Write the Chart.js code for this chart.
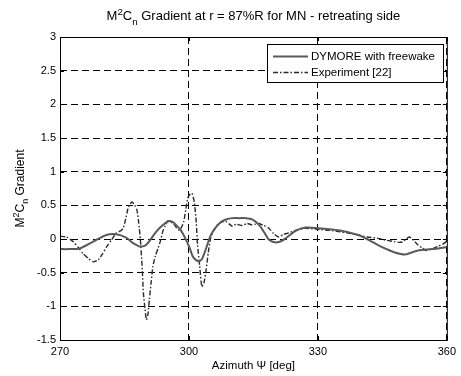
<!DOCTYPE html>
<html>
<head>
<meta charset="utf-8">
<script src="https://cdn.jsdelivr.net/npm/chart.js@4/dist/chart.umd.min.js"></script>
<style>
  html, body { margin: 0; padding: 0; background: #fff; }
  canvas { display: block; }
</style>
</head>
<body>
<canvas id="chart" width="461" height="376"></canvas>
<script>
const FONT = "'Liberation Sans', Arial, sans-serif";

// azimuth (deg) and M^2Cn gradient
const dymoreAz = [270, 272, 274.6, 277.7, 280.8, 283.1, 285.4, 287, 288.5, 290,
  292.4, 294, 295.1, 296, 297, 298.2, 299.3, 300.2, 300.9, 301.6,
  302.3, 303, 303.6, 304.3, 305.1, 306.2, 307.4, 308.6, 310.1, 311.7,
  313.2, 314.7, 316.3, 317.5, 318.6, 319.5, 320.5, 321.5, 322.5, 324.8,
  327.1, 330.2, 334.8, 339.4, 342, 344, 346, 347.9, 350.2, 351.8,
  353.3, 356.4, 358, 360];
const dymoreVal = [-0.15, -0.15, -0.14, -0.04, 0.06, 0.07, 0.02, -0.06, -0.11, -0.09,
  0.11, 0.21, 0.26, 0.26, 0.21, 0.12, -0.01, -0.14, -0.26, -0.31,
  -0.33, -0.3, -0.21, -0.08, 0.06, 0.17, 0.25, 0.29, 0.31, 0.31,
  0.31, 0.29, 0.21, 0.1, -0.01, -0.04, -0.05, -0.03, 0.01, 0.12,
  0.17, 0.16, 0.13, 0.06, -0.02, -0.09, -0.15, -0.2, -0.23, -0.2,
  -0.17, -0.15, -0.14, -0.12];

const expAz = [270, 271.5, 273.1, 274.3, 275.4, 276.6, 277.7, 278.9, 279.9, 280.8,
  282, 283.1, 284.1, 284.7, 285.3, 285.8, 286.3, 286.8, 287.4, 287.9,
  288.3, 288.7, 289.1, 289.4, 289.8, 290.1, 290.5, 290.8, 291.2, 291.6,
  292.2, 292.8, 293.4, 293.9, 294.5, 295.1, 295.8, 296.6, 297.2, 297.8,
  298.3, 298.8, 299.3, 299.7, 300.2, 300.7, 301, 301.3, 301.7, 302,
  302.5, 303, 303.5, 304, 304.5, 305.1, 305.8, 306.6, 307.6, 308.6,
  309.4, 310.1, 311, 312.4, 313.5, 314.7, 315.5, 316.3, 317.4, 318.6,
  319.7, 320.9, 322, 323.2, 325, 327.1, 330.2, 332.5, 334.8, 337,
  339.4, 341.5, 344, 346, 347.9, 349, 349.8, 350.5, 351.3, 352.3,
  353.3, 354.2, 355.2, 356.5, 357.9, 359, 360];
const expVal = [0.04, 0.03, -0.04, -0.13, -0.22, -0.29, -0.34, -0.31, -0.22, -0.12,
  -0.01, 0.09, 0.12, 0.16, 0.3, 0.45, 0.52, 0.55, 0.5, 0.43,
  0.25, -0.01, -0.4, -0.8, -1.05, -1.2, -1.1, -0.9, -0.65, -0.41,
  -0.25, -0.14, -0.02, 0.11, 0.2, 0.27, 0.25, 0.21, 0.16, 0.13,
  0.18, 0.26, 0.45, 0.6, 0.66, 0.68, 0.62, 0.53, 0.25, -0.09,
  -0.4, -0.71, -0.65, -0.46, -0.2, 0.03, 0.13, 0.21, 0.25, 0.26,
  0.22, 0.19, 0.22, 0.2, 0.23, 0.21, 0.22, 0.23, 0.2, 0.16,
  0.08, 0.03, 0.07, 0.09, 0.13, 0.16, 0.14, 0.13, 0.11, 0.09,
  0.06, 0.03, 0.01, -0.02, -0.04, -0.05, -0.04, 0.0, 0.03, -0.02,
  -0.09, -0.13, -0.17, -0.15, -0.11, -0.08, -0.03];

const seriesNames = ["DYMORE with freewake", "Experiment [22]"];
const xRange = [270, 360];
const yRange = [-1.5, 3];

function pts(xs, ys) {
  return xs.map((x, i) => ({ x: x, y: ys[i] }));
}

// draw text pieces with superscripts / subscripts
function richWidth(ctx, parts, size) {
  let w = 0;
  parts.forEach((p) => {
    ctx.font = (p.sup || p.sub ? size * 0.75 : size) + "px " + FONT;
    w += ctx.measureText(p.t).width;
  });
  return w;
}
function drawRich(ctx, parts, x, y, size) {
  let cx = x;
  parts.forEach((p) => {
    const s = p.sup || p.sub ? size * 0.75 : size;
    ctx.font = s + "px " + FONT;
    const dy = p.sup ? -size * 0.42 : p.sub ? size * 0.35 : 0;
    ctx.fillText(p.t, cx, y + dy);
    cx += ctx.measureText(p.t).width;
  });
}

const titleParts = [{ t: "M" }, { t: "2", sup: true }, { t: "C" }, { t: "n", sub: true },
  { t: " Gradient at r = 87%R for MN - retreating side" }];
const yTitleParts = [{ t: "M" }, { t: "2", sup: true }, { t: "C" }, { t: "n", sub: true },
  { t: " Gradient" }];

const decor = {
  id: "decor",
  afterDraw(chart) {
    const ctx = chart.ctx;
    const a = chart.chartArea;
    const sx = chart.scales.x, sy = chart.scales.y;
    ctx.save();
    // frame
    ctx.strokeStyle = "#000";
    ctx.lineWidth = 1;
    ctx.setLineDash([]);
    ctx.strokeRect(a.left + 0.5, a.top + 0.5, a.right - a.left, a.bottom - a.top);

    // inward tick marks on all four sides
    ctx.beginPath();
    sx.ticks.forEach((t) => {
      const px = Math.round(sx.getPixelForValue(t.value)) + 0.5;
      ctx.moveTo(px, a.bottom); ctx.lineTo(px, a.bottom - 4);
      ctx.moveTo(px, a.top); ctx.lineTo(px, a.top + 4);
    });
    sy.ticks.forEach((t) => {
      const py = Math.round(sy.getPixelForValue(t.value)) + 0.5;
      ctx.moveTo(a.left, py); ctx.lineTo(a.left + 4, py);
      ctx.moveTo(a.right, py); ctx.lineTo(a.right - 4, py);
    });
    ctx.stroke();

    ctx.fillStyle = "#000";
    ctx.textBaseline = "alphabetic";
    ctx.textAlign = "left";

    // title
    const ts = 13;
    const tw = richWidth(ctx, titleParts, ts);
    drawRich(ctx, titleParts, (a.left + a.right) / 2 - tw / 2, 20, ts);

    // y axis title
    const ys = 12;
    const yw = richWidth(ctx, yTitleParts, ys);
    ctx.save();
    ctx.translate(24, (a.top + a.bottom) / 2);
    ctx.rotate(-Math.PI / 2);
    drawRich(ctx, yTitleParts, -yw / 2, 0, ys);
    ctx.restore();

    // legend
    const lx = 267, ly = 44, lw = 176, lh = 38;
    ctx.fillStyle = "#fff";
    ctx.fillRect(lx, ly, lw, lh);
    ctx.strokeStyle = "#000";
    ctx.lineWidth = 1;
    ctx.strokeRect(lx + 0.5, ly + 0.5, lw, lh);
    chart.data.datasets.forEach((ds, i) => {
      const y = ly + 12 + i * 16;
      ctx.strokeStyle = ds.borderColor;
      ctx.lineWidth = ds.borderWidth;
      ctx.setLineDash(ds.borderDash || []);
      ctx.beginPath();
      ctx.moveTo(lx + 6, y + 0.5);
      ctx.lineTo(lx + 41, y + 0.5);
      ctx.stroke();
      ctx.setLineDash([]);
      ctx.fillStyle = "#000";
      ctx.font = "11.5px " + FONT;
      ctx.textBaseline = "middle";
      ctx.fillText(ds.label, lx + 44, y + 1);
    });
    ctx.restore();
  },
};

new Chart(document.getElementById("chart"), {
  type: "line",
  data: {
    datasets: [
      {
        label: seriesNames[0],
        data: pts(dymoreAz, dymoreVal),
        borderColor: "#5a5a5a",
        borderWidth: 2,
        pointRadius: 0,
        tension: 0.3,
        fill: false,
      },
      {
        label: seriesNames[1],
        data: pts(expAz, expVal),
        borderColor: "#2a2a2a",
        borderWidth: 1.4,
        borderDash: [5, 2, 1.5, 2],
        pointRadius: 0,
        tension: 0.2,
        fill: false,
      },
    ],
  },
  options: {
    responsive: false,
    devicePixelRatio: 1,
    animation: false,
    layout: { padding: { left: 0, right: 12, top: 37, bottom: 0 } },
    plugins: { legend: { display: false }, title: { display: false }, tooltip: { enabled: false } },
    scales: {
      x: {
        type: "linear",
        min: xRange[0],
        max: xRange[1],
        ticks: { stepSize: 30, color: "#000", font: { family: FONT, size: 11 }, padding: 5, maxRotation: 0 },
        grid: { color: "#000", lineWidth: 1, drawTicks: false },
        border: { display: false, dash: [7, 4] },
        title: { display: true, text: "Azimuth Ψ [deg]", color: "#000", font: { family: FONT, size: 11.5 }, padding: { top: 2, bottom: 3 } },
        afterFit: (s) => { s.height = 36; },
      },
      y: {
        min: yRange[0],
        max: yRange[1],
        ticks: {
          stepSize: 0.5, color: "#000", font: { family: FONT, size: 11 }, padding: 4,
          callback: (v) => String(Number(v.toFixed(1))),
        },
        grid: { color: "#000", lineWidth: 1, drawTicks: false },
        border: { display: false, dash: [7, 4] },
        afterFit: (s) => { s.width = 60; },
      },
    },
  },
  plugins: [decor],
});
</script>
</body>
</html>
